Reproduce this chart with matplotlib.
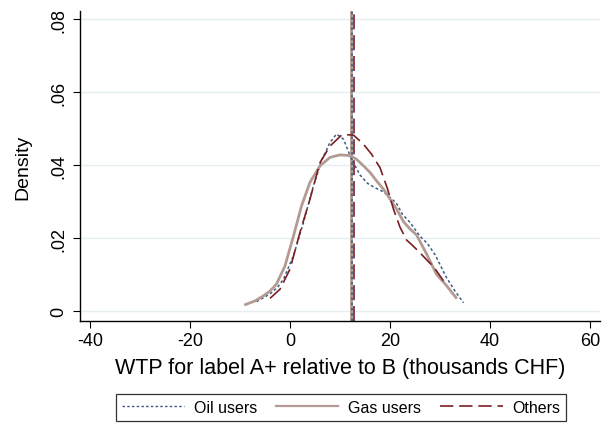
import matplotlib
matplotlib.use("Agg")
import matplotlib.pyplot as plt
from matplotlib.lines import Line2D

plt.rcParams['font.family'] = ['Liberation Sans', 'DejaVu Sans']
plt.rcParams['axes.unicode_minus'] = False

# kernel density curves (x in thousands CHF)
oil_x = [-6.7, -4, -2.5, -1.3, 0.7, 2.7, 4.7, 6.3, 8, 9.3, 10.7, 12.3, 14, 15.5, 17, 18.5,
         20, 21.3, 22.5, 24, 26, 27.5, 29, 31.3, 33, 34.7]
oil_y = [0.0026, 0.0047, 0.0065, 0.0088, 0.0152, 0.0243, 0.0344, 0.0412, 0.0462, 0.0485,
         0.0471, 0.0416, 0.0373, 0.0350, 0.0338, 0.0328, 0.0312, 0.0295, 0.0265, 0.0243,
         0.0205, 0.0185, 0.0155, 0.0092, 0.0055, 0.0023]

gas_x = [-8.9, -7, -5.3, -4, -2.7, -1.0, 0.7, 2.3, 4, 6, 8, 10, 12, 13.3, 14.7, 16, 17.3,
         18.7, 20, 21.3, 22.7, 24, 25.3, 27.3, 29.3, 31.3, 33.2]
gas_y = [0.0018, 0.0028, 0.0042, 0.0055, 0.0074, 0.0124, 0.0206, 0.0288, 0.0353, 0.0398,
         0.0421, 0.0428, 0.0426, 0.0416, 0.0398, 0.0380, 0.0357, 0.0334, 0.0307, 0.0280,
         0.0245, 0.0225, 0.0209, 0.0157, 0.0101, 0.0070, 0.0037]

oth_x = [-4, -2, 0, 2, 4, 6, 8, 10.3, 11.5, 12.7, 14, 15, 16.3, 18, 19.5, 20.7, 22, 23.3,
         24.5, 26, 27.5, 28.7, 30.7]
oth_y = [0.0035, 0.0060, 0.0115, 0.0216, 0.0307, 0.0407, 0.0452, 0.0482, 0.0483, 0.0482,
         0.0466, 0.0452, 0.0430, 0.0393, 0.0335, 0.0279, 0.0230, 0.0195, 0.0180, 0.0160,
         0.0138, 0.0122, 0.0083]

# group means (vertical lines)
means = {'oil': 12.45, 'gas': 12.2, 'oth': 12.7}

xticks = [-40, -20, 0, 20, 40, 60]
yticks = [0, 0.02, 0.04, 0.06, 0.08]
ytick_labels = ['0', '.02', '.04', '.06', '.08']

c_oil = '#3d5a80'
c_gas = '#b39b94'
c_oth = '#7b1e22'

fig = plt.figure(figsize=(6.14, 4.27), dpi=100)
ax = fig.add_axes([80 / 614, (427 - 322) / 427, 520 / 614, 310 / 427])

for y in yticks:
    ax.axhline(y, color='#e6eff0', lw=1.0, zorder=0)

oil_style = dict(color=c_oil, lw=1.1, ls=(0, (1.8, 1.6)))
gas_style = dict(color=c_gas, lw=2.0, ls='-')
oth_style = dict(color=c_oth, lw=1.2, ls=(0, (9, 3.5)))

ax.axvline(means['gas'], **gas_style)
ax.axvline(means['oil'], **oil_style)
ax.axvline(means['oth'], **oth_style)

ax.plot(oil_x, oil_y, **oil_style)
ax.plot(gas_x, gas_y, **gas_style)
ax.plot(oth_x, oth_y, **oth_style)

ax.set_xlim(-42, 62)
ax.set_ylim(-0.0027, 0.0822)
ax.set_xticks(xticks)
ax.set_yticks(yticks)
ax.set_yticklabels(ytick_labels, rotation=90, va='center')
ax.tick_params(axis='x', labelsize=13, length=5, width=0.8, pad=3)
ax.tick_params(axis='y', labelsize=13, length=5, width=0.8, pad=4)
for s in ['top', 'right']:
    ax.spines[s].set_visible(False)
for s in ['left', 'bottom']:
    ax.spines[s].set_linewidth(1.0)

ax.set_xlabel('WTP for label A+ relative to B (thousands CHF)', fontsize=15.5, labelpad=6)
ax.set_ylabel('Density', fontsize=14, labelpad=14)

handles = [Line2D([], [], color=c_oil, lw=1.0, ls=(0, (1.8, 1.6))),
           Line2D([], [], color=c_gas, lw=1.6),
           Line2D([], [], color=c_oth, lw=1.2, ls=(0, (8, 3.5)))]
leg = fig.legend(handles, ['Oil users', 'Gas users', 'Others'], ncol=3,
                 loc='center', bbox_to_anchor=(341 / 614, 1 - 408.5 / 427),
                 fontsize=11.5, frameon=True, fancybox=False, handlelength=3.9,
                 handletextpad=0.6, columnspacing=1.2, borderpad=0.35)
leg.get_frame().set_edgecolor('black')
leg.get_frame().set_linewidth(0.9)

fig.savefig('out.png', dpi=100)
